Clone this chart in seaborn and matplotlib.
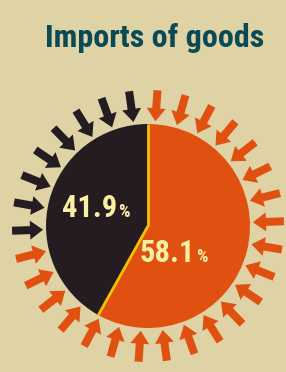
import numpy as np
import matplotlib.pyplot as plt
import seaborn as sns
from matplotlib import font_manager

# dados ---------------------------------------------------------------------------
labels = ['Other', 'Imports']
shares = [41.9, 58.1]
colors = ['#241C20', '#E05111']
arrow_angles = list(range(2, 360, 12))   # graus, posicao das setas em volta do circulo

bg = '#DFD3A6'
sns.set_style('white')
names = {f.name for f in font_manager.fontManager.ttflist}
narrow = [n for n in ['Roboto Condensed', 'Liberation Sans Narrow', 'Roboto'] if n in names]
plt.rcParams['font.family'] = narrow + ['DejaVu Sans']

fig = plt.figure(figsize=(2.86, 3.72), dpi=100)
fig.patch.set_facecolor(bg)
ax = fig.add_axes([0, 0, 1, 1])
ax.set_facecolor(bg)

cx, cy, r = 148, 146, 102

ax.pie(shares, colors=colors, startangle=90, center=(cx, cy), radius=r,
       wedgeprops=dict(linewidth=0))

# linhas amarelas entre as fatias
ang = 90
for s in shares:
    a = np.deg2rad(ang)
    ax.plot([cx, cx + r * np.cos(a)], [cy, cy + r * np.sin(a)], color='#F2C200', lw=2, solid_capstyle='butt')
    ang += s / 100 * 360

# setas apontando para o centro (escuras no quadrante superior esquerdo)
for deg in arrow_angles:
    a = np.deg2rad(deg)
    r0, r1 = 136, 105
    x0, y0 = cx + r0 * np.cos(a), cy + r0 * np.sin(a)
    x1, y1 = cx + r1 * np.cos(a), cy + r1 * np.sin(a)
    c = colors[0] if 90 < deg < 186 else colors[1]
    ax.arrow(x0, y0, x1 - x0, y1 - y0, width=8, head_width=19, head_length=13,
             length_includes_head=True, color=c, lw=0)

# rotulos de porcentagem
txt = '#FBF0A2'
ax.text(117, 155, f'{shares[0]}', color=txt, fontsize=22, fontweight='bold', ha='right', va='baseline')
ax.text(118, 155, '%', color=txt, fontsize=13, fontweight='bold', ha='left', va='baseline')
ax.text(195, 110, f'{shares[1]}', color=txt, fontsize=22, fontweight='bold', ha='right', va='baseline')
ax.text(196, 110, '%', color=txt, fontsize=13, fontweight='bold', ha='left', va='baseline')

ax.text(155, 325, 'Imports of goods', color='#0A4A55', fontsize=23, fontweight='bold', ha='center', va='baseline')

ax.set_xlim(0, 286)
ax.set_ylim(0, 372)
ax.set_aspect('equal')
ax.axis('off')

plt.savefig('out.png', dpi=100, facecolor=bg)
